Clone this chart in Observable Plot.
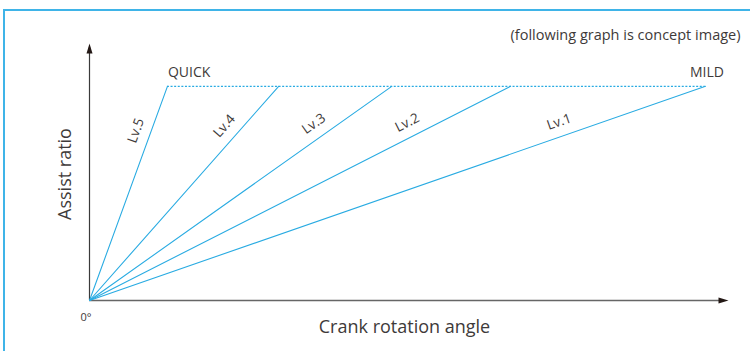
<!DOCTYPE html>
<html>
<head>
<meta charset="utf-8">
<script src="https://cdn.jsdelivr.net/npm/d3@7"></script>
<script src="https://cdn.jsdelivr.net/npm/@observablehq/plot@0.6"></script>
<style>
  html, body { margin: 0; padding: 0; background: #fff; }
  #wrap { position: relative; width: 750px; height: 351px; overflow: hidden; }
  #border { position: absolute; left: 3px; top: 9px; width: 800px; height: 400px;
            border-top: 2px solid #3fb4e8; border-left: 2px solid #3fb4e8; pointer-events: none; }
</style>
</head>
<body>
<div id="wrap"><div id="border"></div></div>
<script>
// ---- data ----
const levels = ["Lv.5", "Lv.4", "Lv.3", "Lv.2", "Lv.1"];
const maxAssistAngle = [12.2, 29.6, 47.3, 65.9, 96.4];   // crank angle where max assist ratio is reached
const maxRatio = 1.0;
const modeLabels = ["QUICK", "MILD"];
const originLabel = "0°";
const xTitle = "Crank rotation angle";
const yTitle = "Assist ratio";
const note = "(following graph is concept image)";
const xMax = 100, yMax = 1.2;

// ---- layout ----
const W = 750, H = 351;
const mL = 89, mR = 22, mT = 43, mB = 51;
const kx = (W - mL - mR) / xMax, ky = (H - mT - mB) / yMax;
const blue = "#29abe2";
const ink = "#3e3a39";

const lineData = levels.flatMap((lv, i) => [
  {level: lv, x: 0, y: 0},
  {level: lv, x: maxAssistAngle[i], y: maxRatio}
]);

// arrowhead symbol, tip at origin pointing up
const arrowHead = {draw(ctx) { ctx.moveTo(0, 0); ctx.lineTo(-3, 10); ctx.lineTo(3, 10); ctx.closePath(); }};

// level labels along each line
const t = 0.77, off = 14.5;
const labelMarks = levels.map((lv, i) => {
  const px = maxAssistAngle[i] * kx, py = -maxRatio * ky;
  const len = Math.hypot(px, py), ux = px / len, uy = py / len;
  const ang = Math.atan2(uy, ux) * 180 / Math.PI;
  return Plot.text([{x: maxAssistAngle[i] * t, y: maxRatio * t, label: lv}], {
    x: "x", y: "y", text: "label", rotate: ang,
    dx: off * uy, dy: -off * ux, lineAnchor: "middle", fontSize: 13.5
  });
});

const plot = Plot.plot({
  width: W, height: H,
  marginLeft: mL, marginRight: mR, marginTop: mT, marginBottom: mB,
  style: {fontFamily: "'Open Sans', Roboto, sans-serif", color: ink, background: "transparent"},
  x: {domain: [0, xMax], axis: null},
  y: {domain: [0, yMax], axis: null},
  marks: [
    Plot.ruleX([0], {y1: 0, y2: yMax - 0.02, stroke: "#3a3a3a", strokeWidth: 1.2}),
    Plot.ruleY([0], {x1: 0, x2: xMax - 1, stroke: "#666", strokeWidth: 1.5}),
    Plot.dot([{x: 0, y: yMax}], {x: "x", y: "y", symbol: arrowHead, fill: "#231815", stroke: null}),
    Plot.dot([{x: xMax, y: 0}], {x: "x", y: "y", symbol: arrowHead, rotate: 90, fill: "#231815", stroke: null}),
    Plot.ruleY([maxRatio], {x1: d3.min(maxAssistAngle), x2: d3.max(maxAssistAngle),
      stroke: blue, strokeWidth: 1.1, strokeDasharray: "2,1.6"}),
    Plot.line(lineData, {x: "x", y: "y", z: "level", stroke: blue, strokeWidth: 1.1}),
    ...labelMarks,
    Plot.text([modeLabels[0]], {x: d3.min(maxAssistAngle), y: maxRatio, text: d => d,
      textAnchor: "start", dx: 0.5, dy: -14, lineAnchor: "middle", fontSize: 14}),
    Plot.text([modeLabels[1]], {x: d3.max(maxAssistAngle), y: maxRatio, text: d => d,
      textAnchor: "middle", dx: 1.5, dy: -14, lineAnchor: "middle", fontSize: 14}),
    Plot.text([originLabel], {x: 0, y: 0, text: d => d, dx: -3.5, dy: 16.5,
      lineAnchor: "middle", fontSize: 11}),
    Plot.text([xTitle], {frameAnchor: "bottom", text: d => d, textAnchor: "middle", dx: -4.5, dy: 27,
      lineAnchor: "middle", fontSize: 18}),
    Plot.text([yTitle], {frameAnchor: "left", text: d => d, textAnchor: "middle", rotate: -90, dx: -24.5, dy: 2,
      lineAnchor: "middle", fontSize: 18}),
    Plot.text([note], {frameAnchor: "top-right", text: d => d, textAnchor: "end",
      dx: 12, dy: -8, lineAnchor: "middle", fontSize: 14.5})
  ]
});
plot.style.position = "absolute";
plot.style.left = "0px";
plot.style.top = "0px";
document.getElementById("wrap").prepend(plot);
</script>
</body>
</html>
